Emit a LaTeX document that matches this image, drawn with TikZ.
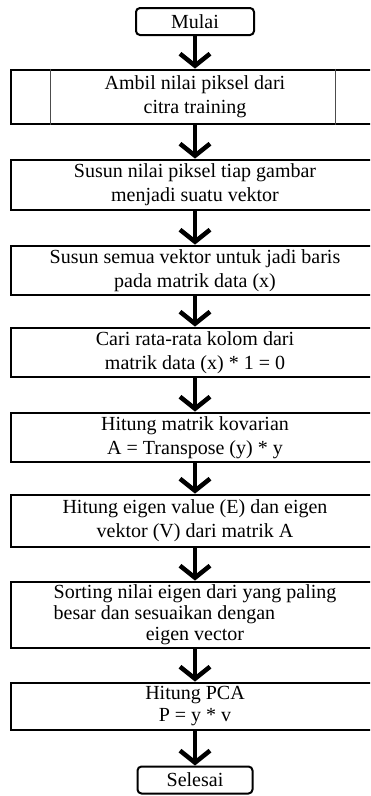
\documentclass[tikz,border=0pt]{standalone}
\usepackage{fontspec}
\setmainfont{Liberation Serif}
\usepackage{tikz}
\usetikzlibrary{arrows.meta, positioning}

\begin{document}
\begin{tikzpicture}[x=1pt, y=-1pt,
  proses/.style={rectangle, draw=black, line width=2.8pt, minimum width=368pt, inner sep=0pt, align=center, font=\fontsize{20}{24}\selectfont},
  terminal/.style={rectangle, rounded corners=4pt, draw=black, line width=2pt, minimum height=27pt, inner sep=0pt, align=center, font=\fontsize{20}{24}\selectfont},
  panah/.style={-{Straight Barb[length=12pt, width=30pt]}, line width=4.5pt, black}
]
\clip (0,0) rectangle (370,796);

\node[terminal, minimum width=118pt] (mulai) at (195,21.5) {Mulai};
\node[proses, minimum height=54pt] (ambil) at (195,97) {Ambil nilai piksel dari\\citra training};
\node[proses, minimum height=50pt] (susun) at (195,185) {Susun nilai piksel tiap gambar\\menjadi suatu vektor};
\node[proses, minimum height=49pt] (baris) at (195,270.5) {Susun semua vektor untuk jadi baris\\pada matrik data (x)};
\node[proses, minimum height=49pt] (rata) at (195,352.5) {Cari rata-rata kolom dari\\matrik data (x) * 1 = 0};
\node[proses, minimum height=49pt] (kovar) at (195,437.5) {Hitung matrik kovarian\\A = Transpose (y) * y};
\node[proses, minimum height=52pt] (eigen) at (195,521) {Hitung eigen value (E) dan eigen\\vektor (V) dari matrik A};
\node[proses, minimum height=66pt, font=\fontsize{20}{21}\selectfont] (sorting) at (195,615) {Sorting nilai eigen dari yang paling\\\rlap{besar dan sesuaikan dengan}\phantom{Sorting nilai eigen dari yang paling}\\eigen vector};
\node[proses, minimum height=47pt, font=\fontsize{20}{22}\selectfont] (pca) at (195,706.5) {Hitung PCA\\P = y * v};
\node[terminal, minimum width=115pt] (selesai) at (195,780) {Selesai};

% garis tepi predefined process
\draw[line width=1pt, black!70] (ambil.north -| 50,0) -- (ambil.south -| 50,0);
\draw[line width=1pt, black!70] (ambil.north -| 335,0) -- (ambil.south -| 335,0);

\draw[panah] (mulai) -- (ambil);
\draw[panah] (ambil) -- (susun);
\draw[panah] (susun) -- (baris);
\draw[panah] (baris) -- (rata);
\draw[panah] (rata) -- (kovar);
\draw[panah] (kovar) -- (eigen);
\draw[panah] (eigen) -- (sorting);
\draw[panah] (sorting) -- (pca);
\draw[panah] (pca) -- (selesai);
\end{tikzpicture}
\end{document}
